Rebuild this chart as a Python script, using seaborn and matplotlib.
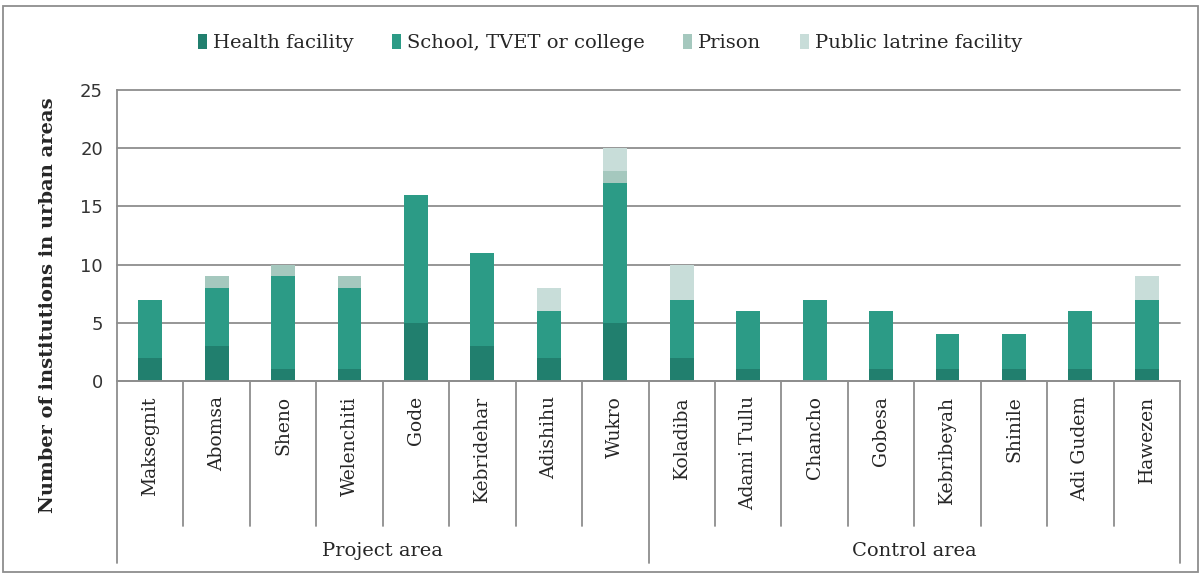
import matplotlib
matplotlib.use("Agg")
import matplotlib.pyplot as plt
import matplotlib.transforms as mtransforms
from matplotlib.patches import Patch, Rectangle
import seaborn as sns
import pandas as pd
import numpy as np

# datos
towns = ["Maksegnit", "Abomsa", "Sheno", "Welenchiti", "Gode", "Kebridehar",
         "Adishihu", "Wukro", "Koladiba", "Adami Tullu", "Chancho", "Gobesa",
         "Kebribeyah", "Shinile", "Adi Gudem", "Hawezen"]
groups = ["Project area", "Control area"]
health = [2, 3, 1, 1, 5, 3, 2, 5, 2, 1, 0, 1, 1, 1, 1, 1]
school = [5, 5, 8, 7, 11, 8, 4, 12, 5, 5, 7, 5, 3, 3, 5, 6]
prison = [0, 1, 1, 1, 0, 0, 0, 1, 0, 0, 0, 0, 0, 0, 0, 0]
latrine = [0, 0, 0, 0, 0, 0, 2, 2, 3, 0, 0, 0, 0, 0, 0, 2]
series = ["Health facility", "School, TVET or college", "Prison", "Public latrine facility"]
colors = ["#217F6E", "#2C9B86", "#A5C8BE", "#C8DDD9"]

df = pd.DataFrame({"town": towns, "Health facility": health,
                   "School, TVET or college": school, "Prison": prison,
                   "Public latrine facility": latrine})
# acumulados para apilar
cum = df[series].cumsum(axis=1)
cum["town"] = df["town"]

sns.set_style("white")
plt.rcParams["font.family"] = ["DejaVu Serif"]

fig = plt.figure(figsize=(12.02, 5.74), dpi=100)
ax = fig.add_axes([117 / 1202, 1 - 381 / 574, (1180 - 117) / 1202, (381 - 90) / 574])

# se dibuja del total hacia abajo para que queden apilados
for s, c in reversed(list(zip(series, colors))):
    sns.barplot(data=cum, x="town", y=s, order=towns, color=c, width=0.36,
                saturation=1, linewidth=0, ax=ax)

ax.set_ylim(0, 25)
ax.set_xlim(-0.5, len(towns) - 0.5)
ax.set_yticks(range(0, 26, 5))
ax.yaxis.grid(True, color="#8E8E8E", linewidth=1.3)
for gl in ax.get_ygridlines():
    gl.set_clip_on(False)
ax.set_axisbelow(True)
for sp in ["top", "right"]:
    ax.spines[sp].set_visible(False)
for sp in ["left", "bottom"]:
    ax.spines[sp].set_color("#8E8E8E")
    ax.spines[sp].set_linewidth(1.3)
ax.tick_params(axis="y", length=6, color="#8E8E8E", width=1.3, pad=4)
for lab in ax.get_yticklabels():
    lab.set_fontfamily("DejaVu Sans")
    lab.set_fontsize(13)
    lab.set_color("#333333")
ax.tick_params(axis="x", length=0, pad=11)
ax.set_xticks(range(len(towns)))
ax.set_xticklabels(towns, rotation=90, fontsize=13.5, va="top", ha="center")
ax.set_xlabel("")
ax.set_ylabel("")

# lineas separadoras de categorias
trans = mtransforms.blended_transform_factory(ax.transData, ax.transAxes)
n = len(towns)
for i in range(n + 1):
    x = i - 0.5
    bottom = -0.625 if i in (0, n // 2, n) else -0.498
    ax.plot([x, x], [0, bottom], color="#8E8E8E", lw=1.3, transform=trans, clip_on=False)
for gi, g in enumerate(groups):
    xc = gi * (n // 2) + (n // 2 - 1) / 2
    ax.text(xc, -0.585, g, transform=trans, ha="center", va="center", fontsize=14)

fig.text(48 / 1202, 1 - 305 / 574, "Number of institutions in urban areas",
         rotation=90, ha="center", va="center", fontsize=14, fontweight="bold")

handles = [Patch(facecolor=c, edgecolor="none") for c in colors]
fig.legend(handles, series, loc="center", bbox_to_anchor=(610 / 1202, 1 - 43 / 574),
           ncol=4, frameon=False, fontsize=14, handlelength=0.45, handleheight=0.8,
           handletextpad=0.3, columnspacing=2.0)

# marco exterior
fig.patches.append(Rectangle((3 / 1202, 2 / 574), 1195 / 1202, 566 / 574,
                             transform=fig.transFigure, fill=False,
                             edgecolor="#8E8E8E", linewidth=1.3))

fig.savefig("out.png", dpi=100)
